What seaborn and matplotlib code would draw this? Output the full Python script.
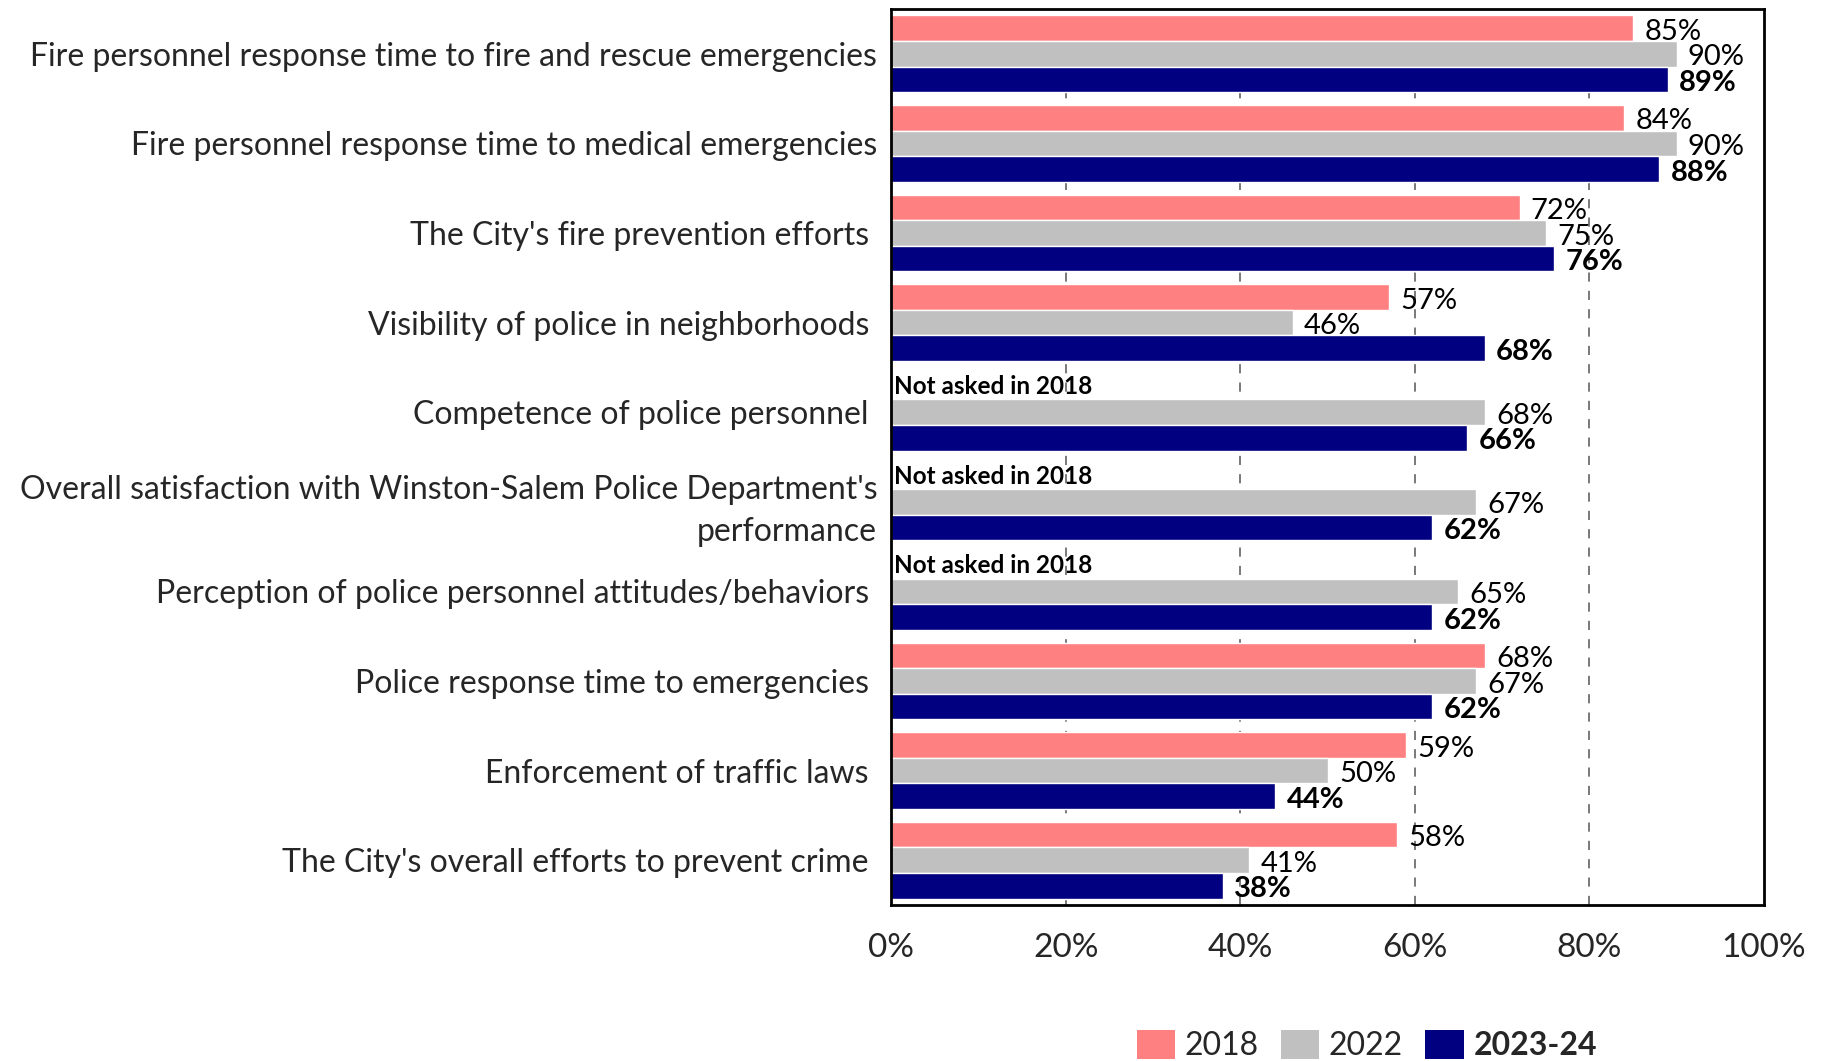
import numpy as np
import pandas as pd
import seaborn as sns
import matplotlib.pyplot as plt
from matplotlib.patches import Patch

categories = [
    "Fire personnel response time to fire and rescue emergencies",
    "Fire personnel response time to medical emergencies",
    "The City's fire prevention efforts ",
    "Visibility of police in neighborhoods ",
    "Competence of police personnel ",
    "Overall satisfaction with Winston-Salem Police Department's\nperformance",
    "Perception of police personnel attitudes/behaviors ",
    "Police response time to emergencies ",
    "Enforcement of traffic laws ",
    "The City's overall efforts to prevent crime ",
]
years = ["2018", "2022", "2023-24"]
vals_2018 = [85, 84, 72, 57, np.nan, np.nan, np.nan, 68, 59, 58]
vals_2022 = [90, 90, 75, 46, 68, 67, 65, 67, 50, 41]
vals_2024 = [89, 88, 76, 68, 66, 62, 62, 62, 44, 38]
colors = ["#FF8080", "#C0C0C0", "#000080"]
x_ticks = [0, 20, 40, 60, 80, 100]
not_asked_text = "Not asked in 2018"

sns.set_theme(style="white")
plt.rcParams["font.family"] = ["Lato", "DejaVu Sans"]

df = pd.DataFrame({
    "Item": categories * 3,
    "Year": [y for y in years for _ in categories],
    "Value": vals_2018 + vals_2022 + vals_2024,
})

fig = plt.figure(figsize=(18.26, 10.61), dpi=100)
ax = fig.add_axes([0.488, 0.147, 0.478, 0.8445])

group_width = 0.857
sns.barplot(data=df, y="Item", x="Value", hue="Year", order=categories,
            hue_order=years, palette=colors, orient="h", width=group_width,
            gap=0, saturation=1, dodge=True, ax=ax, legend=False, zorder=2)

# value labels at the end of each bar
for year, container in zip(years, ax.containers):
    bold = year == "2023-24"
    for bar in container:
        w = bar.get_width()
        if np.isnan(w):
            continue
        ax.text(w + 1.3, bar.get_y() + bar.get_height() / 2 + 0.04, f"{w:.0f}%",
                va="center", ha="left", fontsize=21,
                fontweight="bold" if bold else "normal", color="black", zorder=3)

# note for items with no 2018 value
bar_h = group_width / 3
for i, v in enumerate(vals_2018):
    if np.isnan(v):
        ax.text(0.3, i - bar_h, not_asked_text, va="center", ha="left",
                fontsize=17.5, fontweight="bold", color="black", zorder=3)

ax.set_xlim(0, 100)
ax.set_ylim(len(categories) - 0.5, -0.5)
ax.set_xticks(x_ticks)
ax.set_xticklabels([f"{t}%" for t in x_ticks], fontsize=24)
ax.tick_params(axis="x", length=0, pad=20)
ax.tick_params(axis="y", length=0, pad=10, labelsize=23)
ax.set_xlabel("")
ax.set_ylabel("")
for lbl in ax.get_yticklabels():
    lbl.set_linespacing(1.5)

for t in x_ticks[1:-1]:
    ax.axvline(t, color="#555555", linestyle=(0, (6, 6)), linewidth=1.1, zorder=1)

for s in ax.spines.values():
    s.set_visible(True)
    s.set_color("black")
    s.set_linewidth(2)

handles = [Patch(facecolor=c, edgecolor="none") for c in colors]
leg = ax.legend(handles, years, loc="center", bbox_to_anchor=(0.545, -0.157),
                ncol=3, frameon=False, fontsize=23, handlelength=1.2,
                handleheight=1.0, handletextpad=0.3, columnspacing=0.7)
leg.get_texts()[2].set_fontweight("bold")

fig.savefig("out.png", dpi=100)
